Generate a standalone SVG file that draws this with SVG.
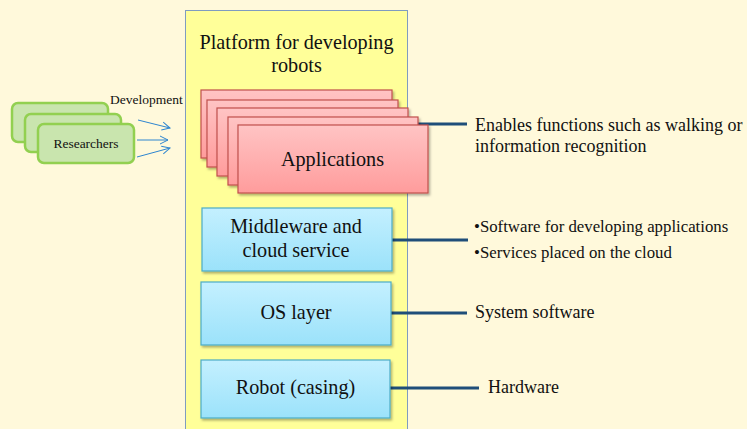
<svg xmlns="http://www.w3.org/2000/svg" width="747" height="429" viewBox="0 0 747 429" font-family="'Liberation Serif', 'DejaVu Serif', serif">
<defs>
<linearGradient id="gRed" x1="0" y1="0" x2="0" y2="1"><stop offset="0" stop-color="#FFC4C4"/><stop offset="1" stop-color="#FF9C9C"/></linearGradient>
<linearGradient id="gBlue" x1="0" y1="0" x2="0" y2="1"><stop offset="0" stop-color="#C4F0FF"/><stop offset="1" stop-color="#9BE2FA"/></linearGradient>
<marker id="arr" markerWidth="10" markerHeight="10" refX="9" refY="5" orient="auto" markerUnits="userSpaceOnUse"><path d="M1,1 L9,5 L1,9" fill="none" stroke="#2E86D0" stroke-width="1"/></marker>
<filter id="sh" x="-10%" y="-10%" width="130%" height="140%"><feDropShadow dx="1.5" dy="2" stdDeviation="1" flood-color="#000" flood-opacity="0.3"/></filter>
</defs>
<style>
text{fill:#111}
.res{fill:#C9E5AE;stroke:#92D050;stroke-width:2.5}
.app{fill:url(#gRed);stroke:#C0504D;stroke-width:1.2;filter:url(#sh)}
.lay{fill:url(#gBlue);stroke:#4BACC6;stroke-width:1.2;filter:url(#sh)}
.con{stroke:#1F4E79;stroke-width:3;fill:none}
.dev{stroke:#2E86D0;stroke-width:1;fill:none;marker-end:url(#arr)}
.big{font-size:20.2px}
</style>
<rect width="747" height="429" fill="#FFF9DB"/>
<g id="platform">
<rect x="185.5" y="10.5" width="222" height="430" fill="#FFFF99" stroke="#7F9CC0" stroke-width="1"/>
<text x="296.5" y="49" class="big" text-anchor="middle">Platform for developing</text>
<text x="296.5" y="72" class="big" text-anchor="middle">robots</text>
</g>
<g id="connectors">
<line class="con" x1="410" y1="124" x2="467" y2="124"/>
<line class="con" x1="392" y1="240" x2="468" y2="240"/>
<line class="con" x1="391" y1="313" x2="467" y2="313"/>
<line class="con" x1="390" y1="388" x2="479" y2="388"/>
<line class="dev" x1="138" y1="120" x2="170" y2="128"/>
<line class="dev" x1="137" y1="140" x2="168" y2="140"/>
<line class="dev" x1="137" y1="157" x2="170" y2="148"/>
</g>
<g id="researchers">
<rect class="res" x="12" y="103" width="96" height="39" rx="6"/>
<rect class="res" x="25" y="114" width="96" height="38" rx="6"/>
<rect class="res" x="38" y="124" width="96" height="39" rx="6"/>
<text x="86" y="148" font-size="13.5" text-anchor="middle">Researchers</text>
</g>
<g id="development-label">
<text x="110" y="104" font-size="13.5">Development</text>
</g>
<g id="applications">
<rect class="app" x="201" y="90" width="191" height="68"/>
<rect class="app" x="207" y="100" width="191" height="67"/>
<rect class="app" x="217" y="108" width="191" height="68"/>
<rect class="app" x="228" y="117" width="190" height="68"/>
<rect class="app" x="238" y="125" width="190" height="68"/>
<text x="332.5" y="166" class="big" text-anchor="middle">Applications</text>
</g>
<g id="middleware">
<rect class="lay" x="202" y="208" width="190" height="63"/>
<text x="296" y="233" class="big" text-anchor="middle">Middleware and</text>
<text x="296" y="257" class="big" text-anchor="middle">cloud service</text>
</g>
<g id="os">
<rect class="lay" x="201" y="282" width="190" height="63"/>
<text x="296" y="319" class="big" text-anchor="middle">OS layer</text>
</g>
<g id="robot">
<rect class="lay" x="201" y="360" width="189" height="58"/>
<text x="295.5" y="394" class="big" text-anchor="middle">Robot (casing)</text>
</g>
<g id="descriptions">
<text x="475" y="131" font-size="18">Enables functions such as walking or</text>
<text x="475" y="152" font-size="18">information recognition</text>
<text x="474" y="232" font-size="16.8">•Software for developing applications</text>
<text x="474" y="258" font-size="16.8">•Services placed on the cloud</text>
<text x="475" y="318" font-size="18">System software</text>
<text x="488" y="393" font-size="18">Hardware</text>
</g>
</svg>
